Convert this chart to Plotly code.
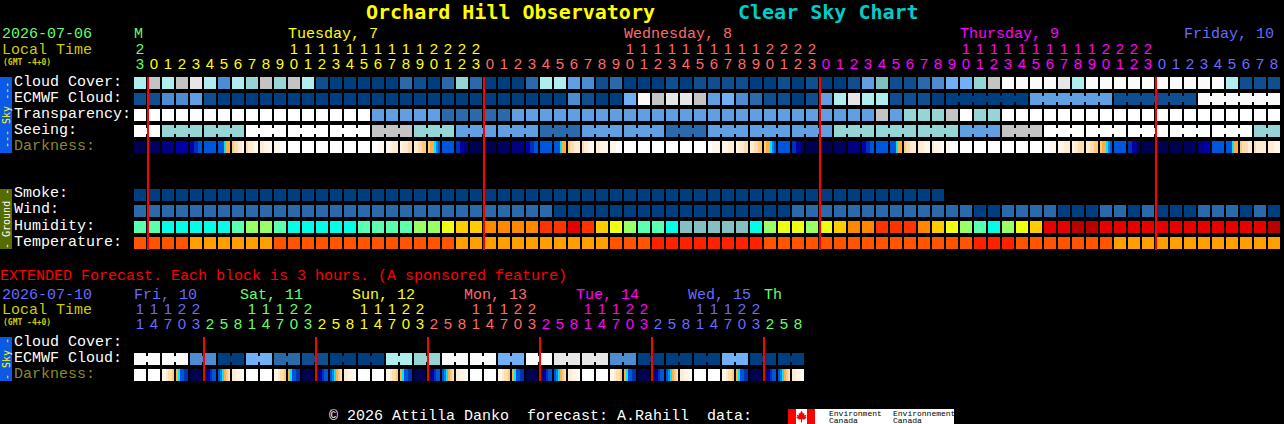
import plotly.graph_objects as go

W, H = 1284, 424
MONO = "Liberation Mono"

# main chart, one value per hour, palette indexes
hours = [23] + list(range(24)) * 3 + list(range(9))
cloud = [7, 8, 7, 8, 9, 7, 3, 7, 6, 8, 6, 8, 7, 1, 0, 0, 0, 0, 0, 2, 1, 0, 2, 6, 2, 0, 0, 0, 2, 7, 7, 4, 3, 1, 2, 0, 0, 0, 1, 0, 1,
         1, 1, 1, 0, 0, 1, 0, 1, 0, 0, 1, 4, 12, 1, 1, 2, 3, 5, 5, 6, 8, 10, 10, 10, 10, 9, 7, 10, 10, 10, 10, 10, 10, 10, 10,
         10, 10, 7, 1, 1, 1]
ecmwf = [1, 1, 3, 3, 4, 1, 0, 0, 0, 0, 0, 0, 0, 0, 0, 0, 0, 0, 0, 0, 0, 0, 0, 0, 0, 0, 0, 0, 0, 0, 0, 3, 1, 0, 0, 5, 10, 8, 9, 9, 8,
         4, 5, 3, 2, 1, 1, 0, 1, 4, 7, 9, 7, 7, 1, 1, 1, 0, 0, 0, 0, 0, 0, 0, 4, 4, 4, 4, 4, 4, 1, 1, 1, 1, 1, 1,
         10, 10, 10, 10, 10, 10]
transparency = [11, 11, 11, 11, 11, 11, 11, 11, 11, 11, 11, 11, 11, 11, 11, 11, 11, 4, 4, 4, 4, 4, 2, 2, 2, 2, 2,
                4, 4, 4, 4, 4, 4, 4, 4, 4, 4, 4, 4, 4, 4, 4, 4, 4, 4, 4, 4, 4, 4, 4, 4, 4, 4,
                8, 4, 6, 6, 6, 8, 11, 6, 6, 11, 11, 11, 11, 11, 11, 11, 11, 11, 11, 11, 11, 11, 11, 11, 11, 11, 11, 11, 11]
seeing = [11, 11, 6, 6, 6, 6, 6, 6, 11, 11, 11, 11, 11, 11, 11, 11, 11, 8, 8, 8, 6, 6, 6, 4, 4, 4, 4, 4, 4, 2, 2, 2,
          4, 4, 4, 4, 4, 4, 2, 2, 2, 4, 4, 4, 4, 4, 4, 4, 4, 4, 6, 6, 6, 6, 6, 6, 6, 6, 6, 4, 4, 4, 8, 8, 8,
          11, 11, 11, 11, 11, 11, 11, 11, 11, 11, 11, 11, 11, 11, 11, 6, 6]
smoke = [0, 0, 0, 0, 0, 0, 0, 0, 0, 0, 0, 0, 0, 0, 0, 0, 0, 0, 0, 0, 0, 0, 0, 0, 0, 0, 0, 0, 0, 0, 0, 0, 0, 0, 0, 0, 0, 0, 0, 0,
         0, 0, 0, 0, 0, 0, 0, 0, 0, 0, 0, 0, 0, 0, 0, 0, 0, 0] + [None] * 24
wind = [2, 2, 2, 2, 2, 2, 2, 2, 2, 2, 2, 2, 2, 2, 2, 2, 2, 2, 2, 2, 2, 2, 2, 2, 2, 2, 2, 2, 2, 2,
        0, 0, 0, 0, 0, 0, 0, 0, 0, 0, 0, 0, 0, 0, 0, 0, 0,
        2, 2, 2, 2, 2, 2, 2, 2, 2, 2, 2, 2, 2, 0, 0, 2, 2, 2, 2, 0, 0, 0, 2, 2, 0, 2, 0, 0, 0, 2, 2, 2, 0, 2, 0]
humidity = [1, 1, 0, 0, 0, 0, 0, 1, 2, 2, 1, 0, 0, 0, 0, 0, 1, 1, 1, 1, 2, 2, 3, 4, 4, 5, 5, 5, 5, 6, 6, 7, 6, 4, 3, 2, 1, 1, 0,
            9, 9, 9, 9, 9, 0, 2, 3, 3, 2, 3, 4, 5, 5, 6, 6, 6, 5, 4, 3, 2, 1, 0, 2, 3, 4,
            7, 7, 8, 8, 7, 7, 7, 7, 7, 7, 7, 7, 7, 7, 7, 7, 8]
temperature = [10, 10, 10, 10, 11, 11, 11, 11, 11, 11, 10, 10, 10, 10, 10, 10, 10, 10, 10, 10, 10, 10, 10,
               11, 11, 11, 11, 11, 11, 11, 11, 11, 11, 11, 10, 10, 10, 12, 12, 12, 12, 12, 12, 12, 12,
               10, 10, 10, 10, 10, 10, 10, 10, 10, 10, 10, 10, 10, 10, 10, 12, 12, 12,
               10, 10, 10, 10, 10, 10, 10, 11, 11, 11, 11, 11, 11, 11, 11, 11, 11, 11, 11]
# darkness has six samples inside a block where it changes
darkness = [13, 12, 11, 10, (10, 10, 9, 9, 8, 8), 8, (8, 8, 8, 6, 5, 5), (4, 3, 3, 2, 2, 1), (3, 2, 2, 2, 1, 1),
            (2, 2, 1, 1, 1, 1), (1, 1, 1, 0, 0, 0), 0, 0, 0, 0, 0, 0, (0, 0, 0, 1, 1, 1), (1, 1, 1, 2, 2, 2),
            (1, 2, 2, 2, 3, 3), (2, 2, 3, 3, 4, 4), (4, 5, 5, 6, 7, 8), 8, (9, 9, 10, 10, 11, 11), 13, 13, 12, 11,
            (10, 10, 9, 9, 8, 8), 8, (8, 8, 8, 6, 5, 5), (4, 3, 3, 2, 2, 2), (3, 2, 2, 1, 1, 1), (2, 2, 1, 1, 1, 1),
            (1, 1, 1, 0, 0, 0), 0, 0, 0, 0, 0, 0, (0, 0, 1, 1, 1, 1), (1, 1, 1, 2, 2, 2), (1, 2, 2, 2, 3, 3),
            (2, 2, 3, 3, 4, 4), (4, 5, 5, 6, 7, 8), 8, (9, 9, 10, 10, 11, 12), 13, 13, 12, 11, (10, 10, 9, 9, 8, 8), 8,
            (8, 8, 8, 6, 5, 5), (4, 3, 3, 2, 2, 2), (2, 2, 2, 1, 1, 1), (2, 1, 1, 1, 1, 0), (1, 1, 0, 0, 0, 0),
            0, 0, 0, 0, 0, 0, (0, 0, 0, 1, 1, 1), (1, 1, 1, 2, 2, 2), (1, 2, 2, 3, 3, 3), (2, 2, 3, 3, 4, 4),
            (4, 5, 5, 6, 7, 8), 8, (9, 9, 10, 10, 11, 12), 13, 13, 13, 12, (11, 11, 11, 10, 10, 10), 8,
            (8, 8, 8, 6, 5, 5), (4, 3, 3, 3, 2, 2), (3, 2, 2, 2, 2, 2), (2, 2, 2, 1, 1, 1)]

# extended forecast, one value per 3 hour block
ext_hours = [11, 14, 17, 20, 23] + [2, 5, 8, 11, 14, 17, 20, 23] * 5 + [2, 5, 8]
ext_ecmwf = [10, 10, 10, 10, 3, 3, 0, 0, 5, 5, 2, 2, 1, 1, 0, 0, 0, 0, 7, 7, 6, 6, 10, 10, 10, 10, 5, 5, 10, 10,
             9, 9, 9, 9, 3, 3, 0, 0, 0, 0, 0, 0, 5, 5, 0, 0, 0, 0]
set_in = (1, 1, 2, 3, 3, 4)
set_out = (5, 6, 8, 8, 9, 9)
rise_in = (13, 12, 10, 9, 8, 8)
rise_out = (8, 7, 6, 5, 4, 3)
morning = (2, 2, 1, 1, 1, 0)
ext_darkness = [0, 0, set_in, set_out, 13, rise_in, rise_out, morning,
                0, 0, set_in, set_out, 13, rise_in, rise_out, morning,
                0, 0, set_in, set_out, 13, rise_in, rise_out, morning,
                0, 0, set_in, set_out, 13, rise_in, rise_out, morning,
                0, 0, set_in, set_out, 13, rise_in, rise_out, morning,
                0, 0, set_in, set_out, 13, rise_in, rise_out, morning]

midnights = [1, 25, 49, 73]
ext_midnights = [5, 13, 21, 29, 37, 45]

sky_colors = ["#003f7f", "#0f4f8f", "#2a6aaa", "#4c8cd0", "#5f9fe2", "#70b0f8", "#95d5d5", "#aeeeee",
              "#c4c4c4", "#e6e6e6", "#fafafa", "#ffffff", "#80c0c0"]
ground_colors = ["#00ffe6", "#5affb0", "#99ff66", "#eeff11", "#ffcc00", "#ff8800", "#ff3300", "#e60000",
                 "#b80000", "#85c0c0", "#ff5500", "#ffa000", "#ff2200"]
dark_colors = ["#ffffff", "#fff6ea", "#ffebd0", "#ffdcae", "#ffc880", "#ffae3c", "#00e5ff", "#0088f0",
               "#0055dd", "#0030b8", "#0000a8", "#000080", "#000060", "#000050"]

GREEN, YELLOW, SALMON, MAGENTA, BLUE = "#66ff66", "#ffff00", "#ff6a6a", "#ff00ff", "#6a6aff"
main_days = [("M", 134, GREEN), ("Tuesday, 7", 288, YELLOW), ("Wednesday, 8", 624, SALMON),
             ("Thursday, 9", 960, MAGENTA), ("Friday, 10", 1184, BLUE)]
ext_days = [("Fri, 10", 134, BLUE), ("Sat, 11", 240, GREEN), ("Sun, 12", 352, YELLOW), ("Mon, 13", 464, SALMON),
            ("Tue, 14", 576, MAGENTA), ("Wed, 15", 688, BLUE), ("Th", 764, GREEN)]
main_col_colors = [GREEN] + [YELLOW] * 24 + [SALMON] * 24 + [MAGENTA] * 24 + [BLUE] * 9
ext_col_colors = [BLUE] * 5 + [GREEN] * 8 + [YELLOW] * 8 + [SALMON] * 8 + [MAGENTA] * 8 + [BLUE] * 8 + [GREEN] * 3


# axes: one column is 14px, one row is 16px, column 0 is centred on 140, row 0 on 83
def row_at(py):
    return (py - 83) / 16


def px_x(px):
    return px / W


def px_y(py):
    return 1 - py / H


def step_scale(colors):
    n = len(colors)
    scale = []
    for i, c in enumerate(colors):
        scale += [[i / n, c], [(i + 1) / n, c]]
    return scale


def add_cells(fig, rows, ys, colors):
    z = [[float("nan") if v is None else v for v in r] for r in rows]
    fig.add_trace(go.Heatmap(z=z, x=list(range(len(rows[0]))), y=ys, colorscale=step_scale(colors),
                             zmin=-0.5, zmax=len(colors) - 0.5, showscale=False, xgap=2, ygap=4, hoverinfo="skip"))


def add_darkness(fig, cells, y):
    xs, z = [], []
    for c, cell in enumerate(cells):
        samples = cell if isinstance(cell, tuple) else (cell,) * 6
        for s, v in enumerate(samples):
            xs.append(c + (2 * s - 5) / 14)
            z.append(v)
        xs.append(c + 0.5)
        z.append(float("nan"))
    fig.add_trace(go.Heatmap(z=[z], x=xs, y=[y], colorscale=step_scale(dark_colors), zmin=-0.5,
                             zmax=len(dark_colors) - 0.5, showscale=False, ygap=4, hoverinfo="skip"))


def add_bridges(fig, values, y, first, size):
    # blocks from the same forecast step are joined by a small neck
    xs, cols = [], []
    for c in range(first, len(values) - 1):
        if (c - first) % size != size - 1:
            xs.append(c + 0.5)
            cols.append(sky_colors[values[c]])
    fig.add_trace(go.Bar(x=xs, y=[6 / 16] * len(xs), base=[y - 3 / 16] * len(xs), width=2 / 14,
                         marker=dict(color=cols, line_width=0), hoverinfo="skip"))


def add_day_lines(fig, cols, y0, y1):
    xs = [m - 3 / 7 for m in cols]
    fig.add_trace(go.Bar(x=xs, y=[y1 - y0] * len(xs), base=[y0] * len(xs), width=2 / 14,
                         marker=dict(color="#ff0000", line_width=0), hoverinfo="skip"))


def add_digits(fig, hrs, colors, y_tens, y_units):
    cols = list(range(len(hrs)))
    fig.add_trace(go.Scatter(x=cols, y=[y_units] * len(cols), mode="text", text=[str(h % 10) for h in hrs],
                             textfont=dict(family="Liberation Sans", size=15, color=colors), hoverinfo="skip"))
    tens = [c for c in cols if hrs[c] >= 10]
    fig.add_trace(go.Scatter(x=tens, y=[y_tens] * len(tens), mode="text", text=[str(hrs[c] // 10) for c in tens],
                             textfont=dict(family="Liberation Sans", size=15, color=[colors[c] for c in tens]),
                             hoverinfo="skip"))


def label(text, x, y, color="#ffffff", size=15, family=MONO, anchor="left", angle=0, weight="normal"):
    fig.add_annotation(text=text, x=px_x(x), y=px_y(y), xref="paper", yref="paper", showarrow=False, xanchor=anchor,
                       yanchor="middle", textangle=angle, borderpad=0, borderwidth=0,
                       font=dict(family=family, size=size, color=color, weight=weight))


def block(x0, y0, x1, y1, color):
    fig.add_shape(type="rect", xref="paper", yref="paper", x0=px_x(x0), x1=px_x(x1), y0=px_y(y0), y1=px_y(y1),
                  fillcolor=color, line_width=0, layer="below")


fig = go.Figure()

add_cells(fig, [cloud, ecmwf, transparency, seeing], [0, 1, 2, 3], sky_colors)
add_darkness(fig, darkness, 4)
add_cells(fig, [smoke, wind], [7, 8], sky_colors)
add_cells(fig, [humidity, temperature], [9, 10], ground_colors)
add_cells(fig, [ext_ecmwf], [row_at(359)], sky_colors)
add_darkness(fig, ext_darkness, row_at(375))

add_bridges(fig, seeing, 3, 2, 3)
fig.add_trace(go.Bar(x=[0.5], y=[6 / 16], base=[3 - 3 / 16], width=2 / 14, marker=dict(color="#ffffff", line_width=0),
                     hoverinfo="skip"))
add_bridges(fig, ecmwf, 1, 58, 6)
add_bridges(fig, ext_ecmwf, row_at(359), 0, 2)

add_day_lines(fig, midnights, row_at(77), row_at(250))
add_day_lines(fig, ext_midnights, row_at(337), row_at(381))

add_digits(fig, hours, main_col_colors, row_at(50), row_at(65))
add_digits(fig, ext_hours, ext_col_colors, row_at(310), row_at(325))

# title
label("Orchard Hill Observatory", 366, 12, "#ffff00", 20, "DejaVu Sans Mono, monospace", weight="bold")
label("Clear Sky Chart", 738, 12, "#00cccc", 20, "DejaVu Sans Mono, monospace", weight="bold")

# header of the main chart
label("2026-07-06", 2, 35, GREEN)
label("Local Time", 2, 50, "#cccc00")
label("(GMT -4+0)", 3, 62, "#cccc00", 8, "DejaVu Sans Mono", weight="bold")
for name, x, color in main_days:
    label(name, x, 35, color)

for name, y in zip(["Cloud Cover:", "ECMWF Cloud:", "Transparency:", "Seeing:"], [82, 98, 114, 130]):
    label(name, 14, y)
label("Darkness:", 14, 146, "#8a8a2a")
for name, y in zip(["Smoke:", "Wind:", "Humidity:", "Temperature:"], [194, 210, 226, 242]):
    label(name, 14, y)

# extended block
label("EXTENDED Forecast. Each block is 3 hours. (A sponsored feature)", 0, 276.5, "#ff0000")
label("2026-07-10", 2, 295, BLUE)
label("Local Time", 2, 310, "#cccc00")
label("(GMT -4+0)", 3, 322, "#cccc00", 8, "DejaVu Sans Mono", weight="bold")
for name, x, color in ext_days:
    label(name, x, 295, color)
label("Cloud Cover:", 14, 342)
label("ECMWF Cloud:", 14, 358)
label("Darkness:", 14, 374, "#8a8a2a")

# side tabs
block(0, 77, 12, 153, "#0a5ae6")
block(0, 189, 12, 249, "#566b00")
block(0, 337, 12, 381, "#0a5ae6")
label("--- Sky ---", 6, 115, "#ffff00", 10, "DejaVu Sans Mono", anchor="center", angle=-90)
label("- Ground -", 6, 219, "#ffffff", 10, "DejaVu Sans Mono", anchor="center", angle=-90)
label("- Sky -", 6, 359, "#ffff00", 10, "DejaVu Sans Mono", anchor="center", angle=-90)

# footer and data source logo
label("© 2026 Attilla Danko  forecast: A.Rahill  data:", 329, 416)
block(788, 409, 954, 424, "#ffffff")
block(788, 409, 796, 424, "#ff0000")
block(807, 409, 815, 424, "#ff0000")
leaf = [(0, -6), (1.5, -3), (3, -3.5), (2.5, -1), (5, -2), (4, 0.5), (5.5, 1), (2.5, 3), (0.5, 2.8), (0.5, 6), (-0.5, 6),
        (-0.5, 2.8), (-2.5, 3), (-5.5, 1), (-4, 0.5), (-5, -2), (-2.5, -1), (-3, -3.5), (-1.5, -3)]
leaf_path = "M " + " L ".join(f"{px_x(801.5 + a):.5f},{px_y(416.5 + b):.5f}" for a, b in leaf) + " Z"
fig.add_shape(type="path", xref="paper", yref="paper", path=leaf_path, fillcolor="#ff0000", line_width=0)
label("Environment", 829, 413, "#000000", 8)
label("Canada", 829, 420, "#000000", 8)
label("Environnement", 893, 413, "#000000", 8)
label("Canada", 893, 420, "#000000", 8)

fig.update_layout(
    width=W, height=H, margin=dict(l=0, r=0, t=0, b=0, pad=0), paper_bgcolor="#000000", plot_bgcolor="#000000",
    showlegend=False, hovermode=False, barmode="overlay", bargap=0,
    xaxis=dict(range=[-10, (W - 140) / 14], visible=False, fixedrange=True),
    yaxis=dict(range=[row_at(H), row_at(0)], visible=False, fixedrange=True),
)

fig.write_html("out.html", config=dict(displayModeBar=False),
               post_script="document.body.style.margin='0';document.body.style.background='#000';"
                           "document.body.style.overflow='hidden';")
